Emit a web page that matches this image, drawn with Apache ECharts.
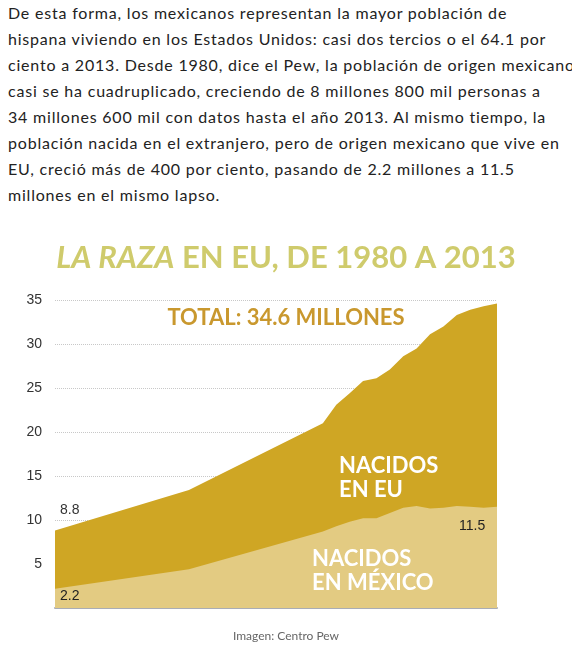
<!DOCTYPE html>
<html>
<head>
<meta charset="utf-8">
<script src="https://cdn.jsdelivr.net/npm/echarts@6/dist/echarts.min.js"></script>
<style>
  body { margin: 0; background: #fff; width: 572px; height: 665px; overflow: hidden; }
  #txt { position: absolute; left: 8px; top: 0px; width: 564px; font-family: Lato, sans-serif; font-size: 16px; letter-spacing: 0.8px; line-height: 26px; color: #222; white-space: nowrap; }
  #chart { position: absolute; left: 0; top: 225px; width: 572px; height: 440px; }
</style>
</head>
<body>
<div id="txt">De esta forma, los mexicanos representan la mayor población de<br>hispana viviendo en los Estados Unidos: casi dos tercios o el 64.1 por<br>ciento a 2013. Desde 1980, dice el Pew, la población de origen mexicano<br>casi se ha cuadruplicado, creciendo de 8 millones 800 mil personas a<br>34 millones 600 mil con datos hasta el año 2013. Al mismo tiempo, la<br>población nacida en el extranjero, pero de origen mexicano que vive en<br>EU, creció más de 400 por ciento, pasando de 2.2 millones a 11.5<br>millones en el mismo lapso.</div>
<div id="chart"></div>
<script>
// datos (millones)
var years = [1980, 1990, 2000, 2001, 2002, 2003, 2004, 2005, 2006, 2007, 2008, 2009, 2010, 2011, 2012, 2013]
var total = [8.8, 13.4, 21.0, 23.1, 24.4, 25.8, 26.1, 27.1, 28.6, 29.5, 31.1, 32.0, 33.3, 33.9, 34.3, 34.6]
var nacidosMexico = [2.2, 4.4, 8.7, 9.3, 9.8, 10.2, 10.2, 10.8, 11.4, 11.6, 11.3, 11.4, 11.6, 11.5, 11.4, 11.5]
var yTicks = [5, 10, 15, 20, 25, 30, 35]

var totalData = []
var mexData = []
for (var i = 0; i < years.length; i++) {
    totalData.push([years[i], total[i]])
    mexData.push([years[i], nacidosMexico[i]])
}

var chart = echarts.init(document.getElementById('chart'))
var font = 'Lato, sans-serif'
chart.setOption({
    animation: false,
    title: {
        text: '{i|LA RAZA} EN EU, DE 1980 A 2013',
        left: 'center',
        top: 12,
        textStyle: {
            fontFamily: font, fontSize: 31, fontWeight: 'bold', color: '#cfcb6c',
            rich: { i: { fontFamily: font, fontSize: 31, fontWeight: 'bold', fontStyle: 'italic', color: '#cfcb6c' } }
        }
    },
    grid: { left: 55, right: 75, top: 75, bottom: 57 },
    xAxis: {
        type: 'value', min: 1980, max: 2013,
        axisLine: { lineStyle: { color: '#a9adb6', width: 2 } },
        axisTick: { show: false }, axisLabel: { show: false }, splitLine: { show: false }
    },
    yAxis: {
        type: 'value', min: 0, max: 35, interval: 5,
        axisLine: { show: false }, axisTick: { show: false },
        axisLabel: {
            margin: 13, fontFamily: 'Liberation Sans, Arial', fontSize: 14, color: '#333',
            formatter: function (v) { return yTicks.indexOf(v) >= 0 ? v : '' }
        },
        splitLine: { lineStyle: { color: '#c8c8c8', type: 'dotted' } }
    },
    series: [
        {
            name: 'Total', type: 'line', data: totalData, z: 2,
            symbol: 'none', lineStyle: { width: 0 }, areaStyle: { color: '#cfa624', opacity: 1 }
        },
        {
            name: 'Nacidos en México', type: 'line', data: mexData, z: 3,
            symbol: 'none', lineStyle: { width: 0 }, areaStyle: { color: '#e3cb82', opacity: 1 }
        }
    ],
    graphic: [
        { type: 'text', left: 'center', top: 82, z: 10, style: { text: 'TOTAL: 34.6 MILLONES', font: 'bold 22px Lato, sans-serif', fill: '#c9982e' } },
        { type: 'text', left: 339, top: 229, z: 10, style: { text: 'NACIDOS\nEN EU', font: 'bold 22px Lato, sans-serif', fill: '#fff', lineHeight: 24 } },
        { type: 'text', left: 312, top: 322, z: 10, style: { text: 'NACIDOS\nEN MÉXICO', font: 'bold 22px Lato, sans-serif', fill: '#fff', lineHeight: 24 } },
        { type: 'text', left: 60, top: 278, z: 10, style: { text: '8.8', font: '14px Liberation Sans, Arial', fill: '#333' } },
        { type: 'text', left: 60, top: 364, z: 10, style: { text: '2.2', font: '14px Liberation Sans, Arial', fill: '#222' } },
        { type: 'text', left: 459, top: 294, z: 10, style: { text: '11.5', font: '14px Liberation Sans, Arial', fill: '#222' } },
        { type: 'text', left: 'center', top: 405, z: 10, style: { text: 'Imagen: Centro Pew', font: '12px Lato, sans-serif', fill: '#666' } }
    ]
})
</script>
</body>
</html>
